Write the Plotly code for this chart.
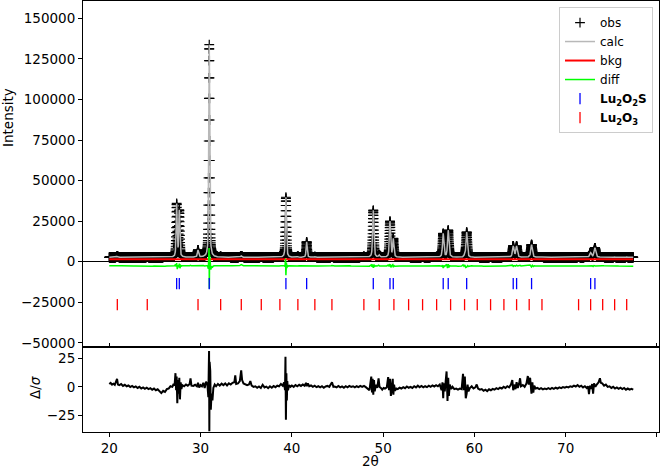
import numpy as np
import plotly.graph_objects as go

# ---------------- data ----------------
scan_start, scan_end, scan_step = 20.0, 77.4, 0.01   # 2-theta scan

bkg_level = 1550.0          # red background line
obs_baseline = 2700.0       # level of the observed pattern between peaks
diff_offset = -2600.0       # green difference curve offset
eta = 0.5                   # pseudo-Voigt mixing

# Lu2O2S reflections (blue ticks), peak heights above baseline, widths
lu2o2s_pos = [27.38, 27.67, 30.95, 39.35, 41.62, 48.92, 50.75, 51.11,
              56.58, 57.13, 59.15, 64.25, 64.62, 66.26, 72.73, 73.20]
lu2o2s_height = [32500, 28500, 131000, 37000, 9500, 29000, 22000, 11000,
                 14500, 16500, 15500, 6800, 6500, 7800, 2500, 5800]
lu2o2s_fwhm = [0.13, 0.13, 0.13, 0.14, 0.14, 0.16, 0.16, 0.16,
               0.18, 0.18, 0.18, 0.20, 0.20, 0.20, 0.23, 0.23]

# Lu2O3 reflections (red ticks), peak heights above baseline
lu2o3_pos = [20.88, 24.16, 29.72, 32.20, 34.46, 36.65, 38.69, 40.66, 42.52,
             44.39, 47.89, 49.57, 51.18, 52.79, 54.32, 55.86, 57.39, 58.92,
             60.31, 61.77, 63.23, 64.62, 66.00, 67.40, 71.41, 72.73, 74.05,
             75.36, 76.68]
lu2o3_height = [600, 200, 4300, 200, 900, 300, 200, 400, 300,
                300, 300, 1200, 200, 200, 200, 200, 200, 900,
                200, 200, 200, 200, 200, 200, 200, 200, 200,
                200, 200]
lu2o3_fwhm = 0.16

tick_y_lu2o2s = -13500
tick_y_lu2o3 = -26500

# normalised difference (obs-calc)/sigma
resid_x = [20.00, 20.15, 20.30, 20.45, 20.60, 20.75, 20.85, 20.95, 21.10, 21.30,
           21.50, 21.70, 21.90, 22.10, 22.30, 22.50, 22.70, 22.90, 23.10, 23.30,
           23.50, 23.70, 23.90, 24.10, 24.30, 24.50, 24.70, 24.90, 25.10, 25.30,
           25.50, 25.70, 25.90, 26.10, 26.30, 26.50, 26.70, 26.90, 27.05, 27.15,
           27.25, 27.32, 27.38, 27.45, 27.52, 27.60, 27.67, 27.74, 27.82, 27.90,
           28.00, 28.20, 28.40, 28.60, 28.80, 28.90, 29.00, 29.20, 29.40, 29.60,
           29.72, 29.85, 30.00, 30.15, 30.30, 30.45, 30.60, 30.75, 30.85, 30.90,
           30.93, 30.96, 30.99, 31.02, 31.06, 31.12, 31.20, 31.30, 31.40, 31.55,
           31.70, 31.90, 32.10, 32.30, 32.50, 32.70, 32.90, 33.10, 33.30, 33.50,
           33.70, 33.80, 33.90, 34.10, 34.30, 34.45, 34.55, 34.70, 34.90, 35.10,
           35.30, 35.45, 35.60, 35.80, 36.00, 36.20, 36.40, 36.60, 36.80, 37.00,
           37.20, 37.40, 37.60, 37.80, 38.00, 38.20, 38.40, 38.60, 38.80, 39.00,
           39.15, 39.25, 39.30, 39.35, 39.40, 39.45, 39.50, 39.58, 39.70, 39.85,
           40.00, 40.20, 40.40, 40.60, 40.80, 41.00, 41.20, 41.40, 41.55, 41.65,
           41.75, 41.90, 42.10, 42.30, 42.50, 42.70, 42.90, 43.10, 43.30, 43.50,
           43.70, 43.90, 44.10, 44.30, 44.40, 44.55, 44.70, 44.90, 45.10, 45.30,
           45.50, 45.70, 45.90, 46.10, 46.30, 46.50, 46.70, 46.90, 47.10, 47.30,
           47.50, 47.70, 47.90, 48.10, 48.30, 48.50, 48.70, 48.78, 48.85, 48.92,
           49.00, 49.08, 49.20, 49.35, 49.50, 49.60, 49.75, 49.90, 50.05, 50.20,
           50.40, 50.55, 50.65, 50.75, 50.85, 50.95, 51.05, 51.12, 51.20, 51.30,
           51.45, 51.60, 51.80, 52.00, 52.20, 52.40, 52.60, 52.80, 53.00, 53.20,
           53.40, 53.60, 53.80, 54.00, 54.20, 54.40, 54.60, 54.80, 55.00, 55.20,
           55.40, 55.60, 55.80, 56.00, 56.20, 56.40, 56.50, 56.58, 56.65, 56.75,
           56.85, 56.95, 57.05, 57.13, 57.20, 57.30, 57.45, 57.60, 57.80, 58.00,
           58.20, 58.40, 58.60, 58.75, 58.85, 58.95, 59.05, 59.15, 59.25, 59.35,
           59.50, 59.70, 59.90, 60.10, 60.25, 60.40, 60.60, 60.80, 61.00, 61.20,
           61.40, 61.60, 61.80, 62.00, 62.20, 62.40, 62.60, 62.80, 63.00, 63.20,
           63.40, 63.60, 63.80, 64.00, 64.15, 64.25, 64.35, 64.50, 64.62, 64.75,
           64.90, 65.00, 65.10, 65.30, 65.50, 65.70, 65.85, 65.95, 66.10, 66.25,
           66.35, 66.45, 66.55, 66.70, 66.90, 67.10, 67.30, 67.50, 67.70, 67.90,
           68.10, 68.30, 68.50, 68.70, 68.90, 69.10, 69.30, 69.50, 69.70, 69.90,
           70.10, 70.30, 70.50, 70.70, 70.90, 71.10, 71.30, 71.50, 71.70, 71.90,
           72.10, 72.30, 72.45, 72.55, 72.65, 72.75, 72.90, 73.00, 73.10, 73.25,
           73.40, 73.60, 73.75, 73.85, 74.00, 74.20, 74.40, 74.60, 74.80, 75.00,
           75.20, 75.40, 75.60, 75.80, 76.00, 76.20, 76.40, 76.60, 76.80, 77.00,
           77.20, 77.40]
resid_val = [2.5, 3.5, 2.0, 2.8, 1.8, 4.5, 7.0, 2.0, 1.5, 2.5,
             0.8, 1.8, 0.5, 1.2, -0.2, 0.8, -0.5, 0.3, -1.0, 0.0,
             -1.5, -0.5, -1.8, -0.8, -2.0, -1.2, -2.5, -1.5, -3.0, -2.2,
             -3.8, -5.5, -3.5, -4.5, -2.0, -1.5, 0.5, 0.0, 2.5, 1.0,
             12.0, -3.0, 9.0, -14.5, 6.0, -6.0, 8.0, -11.0, 4.0, -2.0,
             1.5, 0.5, 2.0, 1.0, 2.5, 7.5, 1.0, 0.8, 1.8, 0.5,
             3.5, -0.5, 1.5, 0.5, 3.5, -1.0, 4.5, 2.0, -9.0, 8.0,
             31.5, -39.0, 22.0, -16.0, 14.0, -20.0, -6.0, -12.0, -1.0, 2.0,
             0.5, 2.5, 1.0, 2.8, 1.5, 3.0, 1.2, 3.0, 2.0, 3.5,
             4.0, 10.0, 2.5, 3.0, 5.0, 14.5, 6.0, 3.0, 2.0, 1.5,
             2.0, 5.0, 1.0, 0.0, 0.5, -0.8, 0.3, -1.0, 1.8, -0.5,
             0.2, -1.2, 0.5, -0.8, 0.8, -0.3, 1.0, 0.5, 2.5, 1.0,
             4.0, -3.0, 26.5, -29.0, 12.0, -12.0, 5.0, -3.0, 1.5, 0.0,
             1.2, 0.0, 1.5, 0.5, 1.8, 0.8, 2.0, 1.0, 3.5, 0.5,
             3.0, 0.5, 1.2, 0.0, 1.0, -0.3, 0.5, -0.5, 0.5, -0.8,
             0.3, 0.8, 0.0, 2.0, 4.0, 0.0, 0.3, -0.5, 0.8, -0.5,
             0.3, -0.8, 0.5, -0.5, 0.8, 0.0, 0.5, -0.5, 0.5, -0.3,
             0.8, 0.0, 0.8, -0.3, -1.5, -3.0, 9.0, -5.0, 7.0, -7.0,
             6.0, -4.0, 2.0, -1.0, 7.5, 0.0, -1.0, -2.5, -1.0, -1.5,
             -0.5, 8.5, -3.0, 7.0, -8.0, 3.0, 7.0, -7.0, 2.0, -3.5,
             -1.5, -2.0, -0.8, -1.5, -0.3, -1.2, 0.3, -0.8, 0.0, -1.0,
             0.5, -0.5, 1.0, -0.3, 0.8, -0.5, 0.5, -0.3, 1.0, 0.0,
             1.2, 0.3, 1.5, 0.5, 2.0, -3.0, 4.0, -10.0, 3.0, -4.0,
             6.0, 13.5, -12.5, 8.0, -8.0, 2.0, -2.0, 0.0, -2.0, -1.5,
             -2.5, -1.5, -2.0, 11.5, -3.0, 9.0, -10.0, -6.0, 2.0, -4.0,
             -1.0, 0.5, -1.5, -0.5, 2.0, -1.5, -2.5, -2.0, -3.5, -2.5,
             -3.8, -2.2, -3.0, -1.8, -2.5, -1.2, -2.0, -0.8, -1.5, 0.0,
             -1.0, 0.5, -0.5, 2.0, 6.0, -3.0, 2.0, -2.0, 4.0, -1.0,
             3.0, 7.5, 0.5, 1.5, 0.0, 3.0, 9.5, 2.0, 8.0, -6.0,
             4.0, -5.0, 1.0, -1.5, -1.0, -2.0, -1.2, -2.2, -1.5, -2.0,
             -1.2, -2.0, -1.0, -1.8, -0.8, -1.5, -0.5, -1.2, -0.3, -0.8,
             0.0, -0.5, 0.5, 0.0, 1.0, 0.3, 1.5, 0.0, 1.0, -0.5,
             0.5, -1.0, 0.5, -6.5, 1.0, -2.0, 2.5, -6.0, 3.0, 0.0,
             2.0, 4.0, 7.5, 3.5, 3.0, 1.0, 2.0, 0.0, 0.5, -1.0,
             0.0, -1.5, -0.5, -1.8, -0.8, -2.0, -1.0, -2.5, -1.5, -2.5,
             -1.8, -2.5]

x_ticks = [20, 30, 40, 50, 60, 70, 80]
y_ticks = [150000, 125000, 100000, 75000, 50000, 25000, 0, -25000, -50000]
r_ticks = [25, 0, -25]


# ---------------- profile built from the read reflections ----------------
def pattern(x):
    x = np.asarray(x, dtype=float)
    y = np.full_like(x, obs_baseline)
    peaks = list(zip(lu2o2s_pos, lu2o2s_height, lu2o2s_fwhm)) + \
        [(p, h, lu2o3_fwhm) for p, h in zip(lu2o3_pos, lu2o3_height)]
    for p, h, w in peaks:
        d = (x - p) / w
        y += h * (eta / (1 + 4 * d * d) + (1 - eta) * np.exp(-4 * np.log(2) * d * d))
    return y


tt = np.arange(scan_start, scan_end + scan_step / 2, scan_step)
obs = pattern(tt)
calc = pattern(tt)
rx = np.array(resid_x)
rv = np.array(resid_val)
diff_curve = diff_offset + rv * np.sqrt(pattern(rx))

FONT = "DejaVu Sans"
fig = go.Figure()
fig.add_trace(go.Scatter(
    x=tt, y=obs, mode="markers", name="obs",
    marker=dict(symbol="cross-thin", size=7, color="black",
                line=dict(width=1.2, color="black"))))
fig.add_trace(go.Scatter(x=tt, y=calc, mode="lines", name="calc",
                         line=dict(color="#b8b8b8", width=1.5)))
fig.add_trace(go.Scatter(x=[scan_start, scan_end], y=[bkg_level, bkg_level],
                         mode="lines", name="bkg",
                         line=dict(color="#ff0000", width=2)))
fig.add_trace(go.Scatter(x=rx, y=diff_curve, mode="lines", name="diff",
                         line=dict(color="#00ff00", width=1.5)))
fig.add_trace(go.Scatter(
    x=lu2o2s_pos, y=[tick_y_lu2o2s] * len(lu2o2s_pos), mode="markers",
    name="<b>Lu<sub>2</sub>O<sub>2</sub>S</b>",
    marker=dict(symbol="line-ns", size=8, color="#0000ff",
                line=dict(width=1.3, color="#0000ff"))))
fig.add_trace(go.Scatter(
    x=lu2o3_pos, y=[tick_y_lu2o3] * len(lu2o3_pos), mode="markers",
    name="<b>Lu<sub>2</sub>O<sub>3</sub></b>",
    marker=dict(symbol="line-ns", size=8, color="#ff0000",
                line=dict(width=1.3, color="#ff0000"))))
fig.add_trace(go.Scatter(x=rx, y=rv, mode="lines", showlegend=False,
                         line=dict(color="black", width=2),
                         xaxis="x2", yaxis="y2"))

split = (432 - 347) / 431.0
axis_common = dict(showline=True, linecolor="black", linewidth=1, mirror=True,
                   showgrid=False, ticklen=4, tickcolor="black", tickwidth=1,
                   tickfont=dict(family=FONT, size=13.5, color="black"))

fig.update_layout(
    width=664, height=469,
    margin=dict(l=83, r=5, t=1, b=37),
    paper_bgcolor="white", plot_bgcolor="white",
    font=dict(family=FONT, size=13.5, color="black"),
    xaxis=dict(domain=[0, 1], anchor="y", range=[17.12, 80.22],
               tickvals=x_ticks, showticklabels=False, ticks="inside",
               zeroline=False, **axis_common),
    xaxis2=dict(domain=[0, 1], anchor="y2", matches="x", range=[17.12, 80.22],
                tickvals=x_ticks, ticks="outside", zeroline=False, **axis_common),
    yaxis=dict(domain=[split, 1], anchor="x", range=[-52560, 160660],
               tickvals=y_ticks, tickformat="d", ticks="outside",
               zeroline=True, zerolinecolor="black", zerolinewidth=1,
               **axis_common),
    yaxis2=dict(domain=[0, split], anchor="x2", range=[-39.7, 35],
                tickvals=r_ticks, ticks="outside", zeroline=False, **axis_common),
    legend=dict(x=0.9896, y=0.986, xanchor="right", yanchor="top",
                bgcolor="rgba(255,255,255,0.8)", bordercolor="#cccccc",
                borderwidth=1, font=dict(family=FONT, size=12),
                tracegroupgap=0),
    annotations=[
        dict(text="Intensity", xref="paper", yref="paper",
             x=(8 - 83) / 576.0, y=(432 - 118) / 431.0, textangle=-90,
             showarrow=False, xanchor="center", yanchor="middle",
             font=dict(family=FONT, size=13.5)),
        dict(text="Δ/<i>σ</i>", xref="paper", yref="paper",
             x=(35 - 83) / 576.0, y=(432 - 388) / 431.0, textangle=-90,
             showarrow=False, xanchor="center", yanchor="middle",
             font=dict(family=FONT, size=13.5)),
        dict(text="2θ", xref="paper", yref="paper",
             x=(370 - 83) / 576.0, y=(432 - 461) / 431.0,
             showarrow=False, xanchor="center", yanchor="middle",
             font=dict(family=FONT, size=13.5)),
    ],
)

fig.write_html("out.html")
